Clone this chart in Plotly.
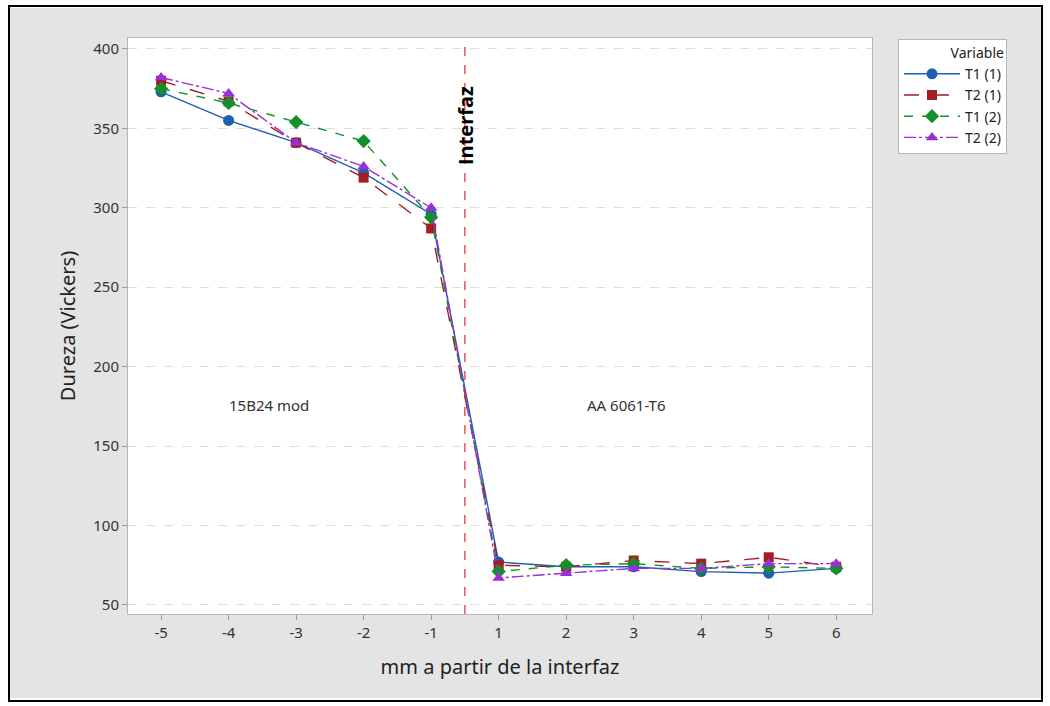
import plotly.graph_objects as go

# Distance from the interface (mm) and hardness profiles
positions = ["-5", "-4", "-3", "-2", "-1", "1", "2", "3", "4", "5", "6"]
t1_1 = [373, 355, 341, 322, 296, 77, 74, 74, 71, 70, 73]
t2_1 = [380, 367, 341, 319, 287, 75, 74, 78, 76, 80, 74]
t1_2 = [375, 366, 354, 342, 294, 71, 75, 76, 73, 74, 73]
t2_2 = [382, 372, 341, 326, 300, 67, 70, 73, 73, 76, 76]

y_ticks = [50, 100, 150, 200, 250, 300, 350, 400]

series = [
    ("T1 (1)", t1_1, "#1f5fb0", "solid", "circle", 11),
    ("T2 (1)", t2_1, "#a31e22", "longdash", "square", 10),
    ("T1 (2)", t1_2, "#14902a", "dash", "diamond", 11),
    ("T2 (2)", t2_2, "#9b2fd6", "12px,3px,3px,3px", "triangle-up", 11),
]

fig = go.Figure()
for name, vals, color, dash, symbol, size in series:
    fig.add_trace(go.Scatter(
        x=positions, y=vals, name=name, mode="lines+markers",
        line=dict(color=color, width=1.4, dash=dash),
        marker=dict(color=color, symbol=symbol, size=size),
    ))

W, H = 1050, 706
ml, mr, mt, mb = 128, 178, 38, 92
pw, ph = W - ml - mr, H - mt - mb


def px_x(p):
    return (p - ml) / pw


def px_y(p):
    return (H - mb - p) / ph


# white margin around the page, then the black frame
fig.add_shape(type="rect", xref="paper", yref="paper",
              x0=px_x(0), x1=px_x(W), y0=px_y(H), y1=px_y(0),
              line=dict(color="white", width=16))
fig.add_shape(type="rect", xref="paper", yref="paper",
              x0=px_x(9), x1=px_x(1042), y0=px_y(701), y1=px_y(6),
              line=dict(color="black", width=2))

# interface marker
fig.add_shape(type="line", xref="x", yref="paper", x0=4.5, x1=4.5, y0=0, y1=1,
              line=dict(color="#e8272b", width=1.2, dash="dash"))

fig.add_annotation(x=4.5, y=352, text="<b>Interfaz</b>", textangle=-90, showarrow=False,
                   font=dict(family="Open Sans, Noto Sans, sans-serif", size=20, color="black"))
fig.add_annotation(x=1.6, y=176, text="15B24 mod", showarrow=False,
                   font=dict(family="Noto Sans, Open Sans, sans-serif", size=15, color="#333333"))
fig.add_annotation(x=6.9, y=176, text="AA 6061-T6", showarrow=False,
                   font=dict(family="Noto Sans, Open Sans, sans-serif", size=15, color="#333333"))

fig.update_layout(
    width=W, height=H,
    margin=dict(l=ml, r=mr, t=mt, b=mb),
    paper_bgcolor="#e4e4e4",
    plot_bgcolor="white",
    font=dict(family="Noto Sans, Open Sans, sans-serif", color="#333333"),
    showlegend=True,
    legend=dict(
        title=dict(text="Variable", side="top right", font=dict(size=14, color="#222")),
        x=px_x(898), y=px_y(39), xanchor="left", yanchor="top",
        bgcolor="white", bordercolor="#b5b5b5", borderwidth=1,
        font=dict(size=14, color="#222"), tracegroupgap=0, itemwidth=56,
    ),
    xaxis=dict(
        type="category", categoryorder="array", categoryarray=positions,
        range=[-0.49, 10.53],
        showgrid=False, zeroline=False,
        showline=True, linecolor="#b5b5b5", mirror=True,
        ticks="outside", ticklen=5, tickcolor="#999999",
        tickfont=dict(size=15, color="#333333"),
        title=dict(text="mm a partir de la interfaz", font=dict(size=20, color="#222"), standoff=18),
    ),
    yaxis=dict(
        range=[44.3, 406.9], tickvals=y_ticks,
        showgrid=True, gridcolor="#dedede", griddash="dash", gridwidth=1,
        zeroline=False,
        showline=True, linecolor="#b5b5b5", mirror=True,
        ticks="outside", ticklen=5, tickcolor="#999999",
        tickfont=dict(size=15, color="#333333"),
        title=dict(text="Dureza (Vickers)", font=dict(size=20, color="#222"), standoff=12),
    ),
)

fig.write_html("out.html")
